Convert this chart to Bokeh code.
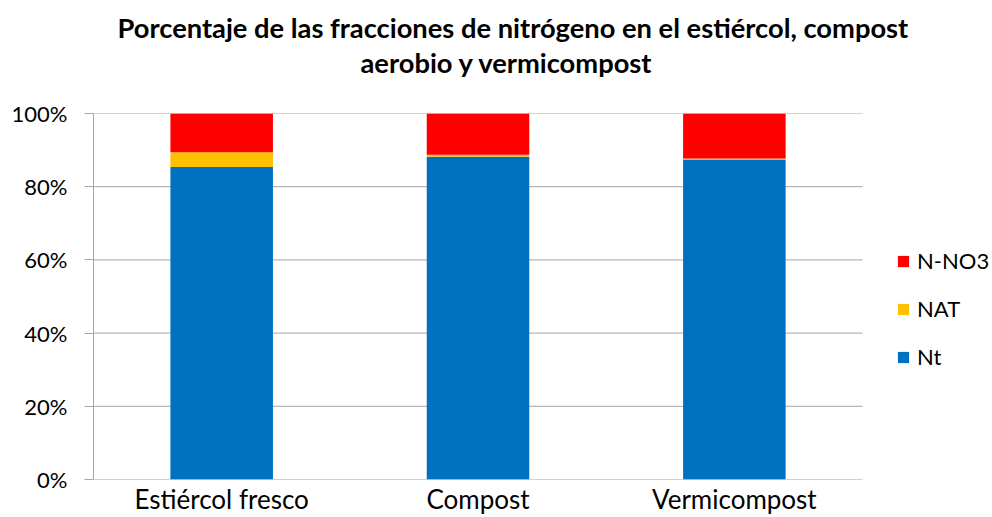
from bokeh.plotting import figure
from bokeh.models import (Range1d, FixedTicker, NumeralTickFormatter,
                          Legend, LegendItem, Title)
from bokeh.embed import file_html
from bokeh.resources import INLINE

categories = ["Estiércol fresco", "Compost", "Vermicompost"]
series_names = ["Nt", "NAT", "N-NO3"]
nt = [0.854, 0.882, 0.874]
nat = [0.040, 0.005, 0.003]
nno3 = [0.106, 0.113, 0.123]
colors = ["#0070C0", "#FFC000", "#FF0000"]
y_ticks = [0, 0.2, 0.4, 0.6, 0.8, 1.0]
title_line1 = "Porcentaje de las fracciones de nitrógeno en el estiércol, compost"
title_line2 = "aerobio y vermicompost"

FONT = "Lato"
GRID = "#A6A6A6"

n = len(categories)
xpos = [i + 0.5 for i in range(n)]
data = {"x": xpos, "cat": categories, "Nt": nt, "NAT": nat, "N-NO3": nno3}

# frame spans to the right edge; the extra room on the right holds the legend
p = figure(x_range=Range1d(0, n * 1.169), y_range=Range1d(0, 1),
           width=992, height=517, title=None,
           output_backend="svg", toolbar_location=None,
           min_border_left=93, min_border_right=0,
           min_border_top=113, min_border_bottom=35)

# horizontal gridlines limited to the category area
p.segment(x0=0, x1=n, y0=y_ticks, y1=y_ticks, line_color=GRID, line_width=1)

renderers = p.vbar_stack(series_names, x="x", width=0.4, color=colors,
                         line_color=None, source=data)

# spacer between frame and title
p.add_layout(Title(text=" ", text_font=FONT, text_font_size="10px", standoff=21), "above")
p.add_layout(Title(text=title_line2, align="left", offset=267,
                   text_font=FONT, text_font_size="27.3px", text_font_style="bold",
                   text_color="#000000", standoff=0), "above")
p.add_layout(Title(text=title_line1, align="left", offset=24,
                   text_font=FONT, text_font_size="27.3px", text_font_style="bold",
                   text_color="#000000", standoff=0), "above")

p.outline_line_color = None
p.xgrid.grid_line_color = None
p.ygrid.grid_line_color = None

p.yaxis.ticker = FixedTicker(ticks=y_ticks)
p.yaxis.formatter = NumeralTickFormatter(format="0%")
p.yaxis.axis_line_color = GRID
p.yaxis.major_tick_line_color = GRID
p.yaxis.major_tick_out = 9
p.yaxis.major_tick_in = 0
p.yaxis.minor_tick_line_color = None
p.yaxis.major_label_standoff = 17
p.yaxis.major_label_text_font = FONT
p.yaxis.major_label_text_font_size = "22px"
p.yaxis.major_label_text_color = "#000000"

p.xaxis.ticker = FixedTicker(ticks=xpos)
p.xaxis.major_label_overrides = {x: c for x, c in zip(xpos, categories)}
p.xaxis.axis_line_color = None
p.xaxis.major_tick_line_color = None
p.xaxis.minor_tick_line_color = None
p.xaxis.major_tick_out = 0
p.xaxis.major_label_standoff = 3
p.xaxis.major_label_text_font = FONT
p.xaxis.major_label_text_font_size = "26px"
p.xaxis.major_label_text_line_height = 1.0
p.xaxis.major_label_text_color = "#000000"

items = [LegendItem(label=series_names[i], renderers=[renderers[i]]) for i in [2, 1, 0]]
legend = Legend(items=items, location=(803, 109), orientation="vertical",
                background_fill_alpha=0, border_line_color=None,
                label_text_font=FONT, label_text_font_size="22px",
                label_text_color="#000000",
                glyph_width=14, glyph_height=14, label_standoff=7,
                spacing=21, padding=0, margin=0)
p.add_layout(legend, "center")

open("out.html", "w").write(file_html(p, INLINE))
